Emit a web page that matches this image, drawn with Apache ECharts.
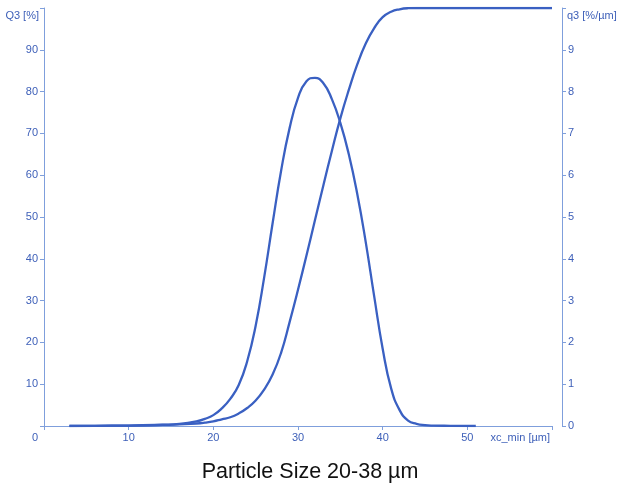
<!DOCTYPE html>
<html>
<head>
<meta charset="utf-8">
<script src="https://cdn.jsdelivr.net/npm/echarts@6/dist/echarts.min.js"></script>
<style>html,body{margin:0;padding:0;background:#fff}#c{width:620px;height:484px}</style>
</head>
<body>
<div id="c"></div>
<script>
// Cumulative distribution Q3 [%] (left axis)
const cumX = [3, 6, 10, 14, 16, 18, 19, 20, 21, 22, 23, 24, 25, 26, 27, 28, 29, 30, 31, 32, 33, 34, 35, 36, 37, 38, 39, 40, 41, 42, 43, 44, 48, 52, 56, 60];
const cumY = [0, 0.05, 0.1, 0.25, 0.4, 0.6, 0.8, 1.1, 1.6, 2.1, 3.0, 4.3, 6.1, 8.7, 12.3, 17.5, 24.8, 32.6, 40.8, 49.2, 57.6, 65.8, 73.6, 80.4, 86.5, 91.5, 95.2, 97.8, 99.1, 99.7, 99.95, 100, 100, 100, 100, 100];
// Density distribution q3 [%/µm] (right axis)
const denX = [3, 6, 10, 14, 16, 18, 19, 20, 21, 22, 23, 24, 25, 26, 27, 28, 29, 30, 31, 32, 33, 34, 35, 36, 37, 38, 39, 40, 41, 42, 43, 44, 45, 46, 48, 51];
const denY = [0, 0.005, 0.01, 0.03, 0.05, 0.11, 0.17, 0.26, 0.42, 0.65, 0.98, 1.55, 2.4, 3.55, 4.85, 6.1, 7.12, 7.85, 8.25, 8.33, 8.2, 7.82, 7.25, 6.5, 5.55, 4.4, 3.1, 1.85, 0.9, 0.38, 0.13, 0.05, 0.02, 0.01, 0.005, 0];
const xTicks = [0, 10, 20, 30, 40, 50];
const titleText = 'Particle Size 20-38 µm';

const lineColor = '#3a60c2';
const axisColor = '#7f9fdc';
const labelColor = '#3d5fb8';
const font = 'Liberation Sans, Arial, Helvetica, sans-serif';

const chart = echarts.init(document.getElementById('c'));
chart.setOption({
  animation: false,
  title: {
    text: titleText, left: 'center', top: 456,
    textStyle: { fontFamily: font, fontSize: 21.5, fontWeight: 'normal', color: '#111' }
  },
  grid: { left: 44, right: 68, top: 8, bottom: 58, containLabel: false },
  xAxis: {
    type: 'value', min: 0, max: 60, interval: 10,
    name: 'xc_min [µm]', nameLocation: 'end', nameGap: -2,
    nameTextStyle: { fontFamily: font, fontSize: 11, color: labelColor, align: 'right', verticalAlign: 'top', padding: [6, 0, 0, 0] },
    axisLine: { lineStyle: { color: axisColor, width: 1 } },
    axisTick: { length: 4, lineStyle: { color: axisColor } },
    splitLine: { show: false },
    axisLabel: {
      fontFamily: font, fontSize: 11, color: labelColor, margin: 6,
      formatter: v => v === 60 ? '' : (v === 0 ? '{z|0}' : String(v)),
      rich: { z: { fontFamily: font, fontSize: 11, color: labelColor, padding: [0, 18, 0, 0] } }
    }
  },
  yAxis: [
    {
      type: 'value', min: 0, max: 100, interval: 10, position: 'left',
      name: 'Q3 [%]', nameLocation: 'end', nameGap: -8,
      nameTextStyle: { fontFamily: font, fontSize: 11, color: labelColor, align: 'right', verticalAlign: 'middle', padding: [0, 5, 0, 0] },
      axisLine: { show: true, lineStyle: { color: axisColor, width: 1 } },
      axisTick: { show: true, length: 4, lineStyle: { color: axisColor } },
      splitLine: { show: false },
      axisLabel: {
        fontFamily: font, fontSize: 11, color: labelColor, margin: 6,
        formatter: v => (v === 0 || v === 100) ? '' : String(v)
      }
    },
    {
      type: 'value', min: 0, max: 10, interval: 1, position: 'right', offset: 10,
      name: 'q3 [%/µm]', nameLocation: 'end', nameGap: -8,
      nameTextStyle: { fontFamily: font, fontSize: 11, color: labelColor, align: 'left', verticalAlign: 'middle', padding: [0, 0, 0, 5] },
      axisLine: { show: true, lineStyle: { color: axisColor, width: 1 } },
      axisTick: { show: true, length: 4, lineStyle: { color: axisColor } },
      splitLine: { show: false },
      axisLabel: {
        fontFamily: font, fontSize: 11, color: labelColor, margin: 6,
        formatter: v => v === 10 ? '' : String(v)
      }
    }
  ],
  series: [
    {
      name: 'Q3', type: 'line', yAxisIndex: 0, smooth: 0.5, showSymbol: false,
      lineStyle: { color: lineColor, width: 2.3 },
      data: cumX.map((x, i) => [x, cumY[i]])
    },
    {
      name: 'q3', type: 'line', yAxisIndex: 1, smooth: 0.5, showSymbol: false,
      lineStyle: { color: lineColor, width: 2.3 },
      data: denX.map((x, i) => [x, denY[i]])
    }
  ]
});
</script>
</body>
</html>
